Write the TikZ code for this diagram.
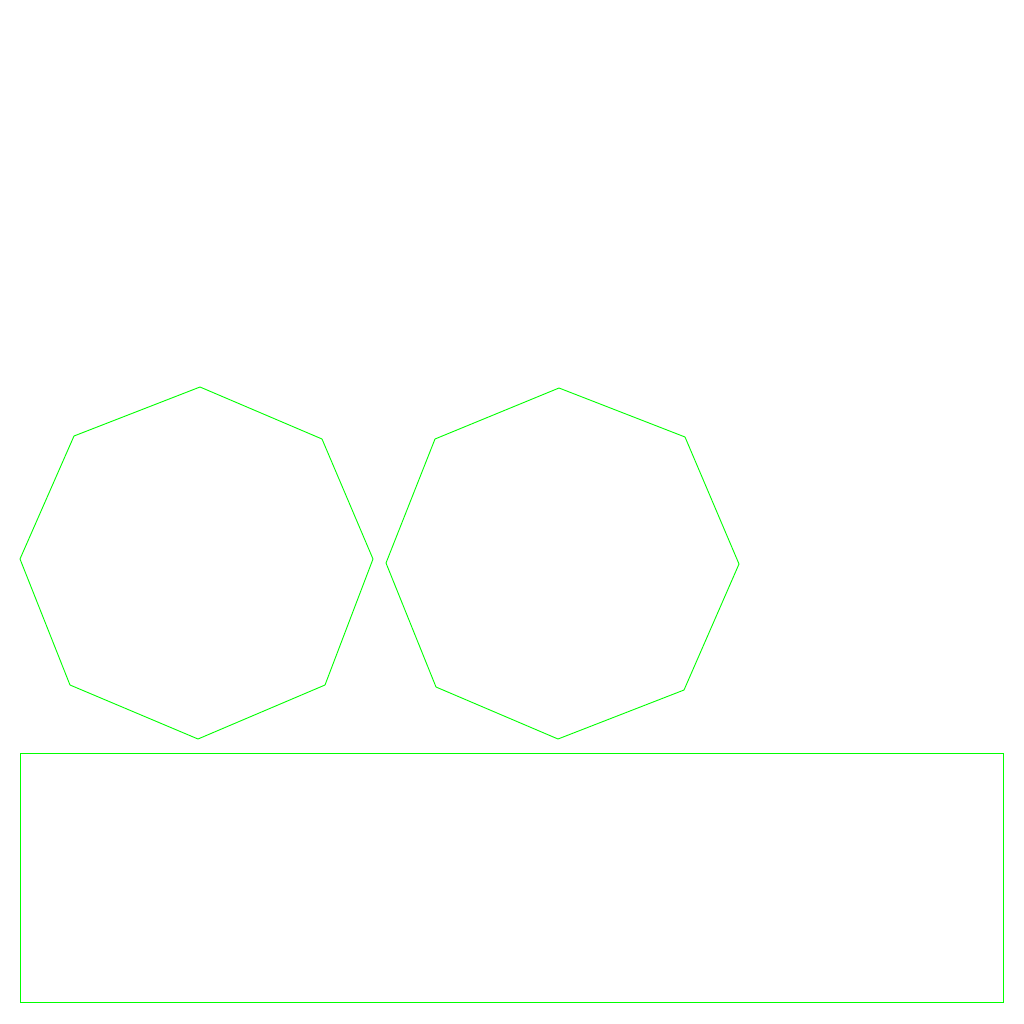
\documentclass[tikz,border=0pt]{standalone}
\begin{document}
\begin{tikzpicture}[x=1pt,y=-1pt,greenline/.style={draw={rgb,255:red,0;green,255;blue,0},line width=0.9pt,line join=miter}]
\useasboundingbox (0,0) rectangle (1024,1024);
\draw[greenline] (200,387) coordinate (a1) -- (322,439) -- (373,559) -- (325,685) -- (198,739) -- (70,685) -- (20,559) -- (74,436) -- cycle;
\draw[greenline] (559,388) coordinate (b1) -- (685,437) -- (739,564) -- (684,690) -- (558,739) -- (436,687) -- (386,563) -- (435,439) -- cycle;
\draw[greenline] (20,753) coordinate (r1) rectangle (1003,1002);
\end{tikzpicture}
\end{document}
